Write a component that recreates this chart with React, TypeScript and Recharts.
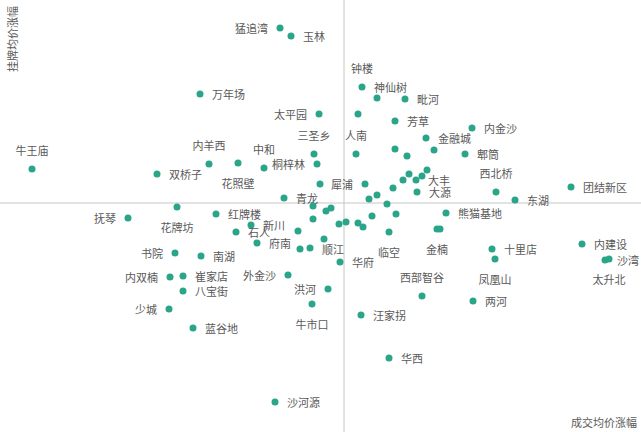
import { ScatterChart, Scatter, XAxis, YAxis, ReferenceLine, Customized } from 'recharts';

// 区域名称（空字符串为无标签的点）
const names = [
  '猛追湾', '玉林', '万年场', '太平园', '牛王庙', '双桥子', '内羊西', '花照壁', '中和', '三圣乡',
  '桐梓林', '青龙', '花牌坊', '红牌楼', '抚琴', '钟楼', '神仙树', '毗河', '芳草', '人南',
  '内金沙', '金融城', '郫筒', '大丰', '大源', '犀浦', '西北桥', '东湖', '团结新区', '熊猫基地',
  '新川', '石人', '府南', '顺江', '华府', '临空', '金楠', '十里店', '凤凰山', '内建设',
  '沙湾', '太升北', '书院', '南湖', '内双楠', '崔家店', '八宝街', '外金沙', '洪河', '牛市口',
  '少城', '蓝谷地', '沙河源', '西部智谷', '两河', '汪家拐', '华西',
  '', '', '', '', '', '', '', '', '', '', '', '', '', '', '', '', '', '', '', '', '', '', '', '', '', '', '',
];

// 成交均价涨幅 (%)
const dealChange = [
  -6.4, -5.3, -14.4, -2.5, -31.2, -18.7, -13.5, -10.6, -8.0, -3.0,
  -2.7, -6.0, -16.7, -12.8, -21.6, 1.8, 3.3, 6.1, 5.1, 1.2,
  12.8, 8.2, 12.1, 7.2, 7.3, 2.1, 15.2, 17.1, 22.7, 10.2,
  -9.3, -10.8, -8.7, -2.0, -0.4, 4.5, 9.3, 14.8, 15.1, 23.8,
  26.1, 26.5, -16.9, -14.3, -17.4, -16.1, -16.1, -5.6, -1.6, -3.2,
  -17.5, -15.1, -6.9, 7.8, 12.9, 1.7, 4.5,
  -2.4, 1.4, 5.1, 6.3, 9.0, 8.3, 6.5, 7.8, 5.9, 4.9, 2.5, 3.3, 4.3,
  -3.1, -1.8, -1.3, -3.1, -0.5, 0.2, 1.4, 1.9, 2.8, 5.2, -4.6, -4.4, -3.4, 9.6,
];

// 挂牌均价涨幅 (%)
const listChange = [
  17.5, 16.7, 10.9, 8.9, 3.4, 2.9, 3.9, 4.0, 3.5, 4.9,
  3.9, 0.5, -0.4, -1.1, -1.5, 11.6, 10.5, 10.4, 8.2, 4.9,
  7.5, 6.5, 4.9, 2.3, 1.1, 1.9, 1.1, 0.3, 1.6, -1.0,
  -2.2, -2.9, -4.0, -3.6, -5.9, -2.9, -2.6, -4.6, -5.6, -4.1,
  -5.7, -5.6, -5.0, -5.3, -7.4, -7.3, -8.8, -7.2, -8.6, -10.1,
  -10.6, -12.5, -19.9, -9.3, -9.8, -11.2, -15.5,
  1.9, 8.9, 5.4, 4.7, 5.3, 3.3, 2.9, 2.7, 2.3, 1.5, 0.4, 0.8, -0.1,
  -0.3, -0.8, -0.5, -1.6, -2.1, -1.9, -2.0, -2.4, -1.3, -1.1, -2.8, -4.6, -4.5, -2.6,
];

// 标签相对点的位置
const labelSide: Record<string, string> = {
  猛追湾: 'l', 太平园: 'l', 桐梓林: 'l', 抚琴: 'l', 犀浦: 'l', 书院: 'l', 内双楠: 'l',
  外金沙: 'l', 洪河: 'l', 少城: 'l',
  牛王庙: 't', 内羊西: 't', 中和: 't', 三圣乡: 't', 钟楼: 't', 人南: 't', 西北桥: 't', 西部智谷: 't',
  花照壁: 'b', 花牌坊: 'b', 临空: 'b', 金楠: 'b', 凤凰山: 'b', 太升北: 'b', 牛市口: 'b',
  神仙树: 'tr', 顺江: 'br',
};

const data = names.map((name, i) => ({ name, x: dealChange[i], y: listChange[i] }));

const DOT = '#2aa58a';
const TEXT = '#595959';
const FONT = '"Noto Sans CJK SC", "Noto Sans", sans-serif';

const Dot = (props: any) => {
  const { cx, cy, payload } = props;
  const name: string = payload.name;
  const side = labelSide[name] || 'r';
  let tx = cx + 12;
  let ty = cy;
  let anchor = 'start';
  if (side === 'l') { tx = cx - 12; anchor = 'end'; }
  if (side === 't') { tx = cx; ty = cy - 19; anchor = 'middle'; }
  if (side === 'b') { tx = cx; ty = cy + 20; anchor = 'middle'; }
  if (side === 'tr') { tx = cx - 3; ty = cy - 11; }
  if (side === 'br') { tx = cx - 2; ty = cy + 10; }
  return (
    <g>
      <circle cx={cx} cy={cy} r={3.5} fill={DOT} />
      {name && (
        <text x={tx} y={ty} textAnchor={anchor} dominantBaseline="central" fontSize={11} fill={TEXT} fontFamily={FONT}>
          {name}
        </text>
      )}
    </g>
  );
};

const AxisTitles = () => (
  <g fontSize={11} fill={TEXT} fontFamily={FONT}>
    <text x={637} y={422} textAnchor="end" dominantBaseline="central">成交均价涨幅</text>
    <text x={12} y={39} textAnchor="middle" dominantBaseline="central" transform="rotate(-90 12 39)">挂牌均价涨幅</text>
  </g>
);

export default function App() {
  return (
    <div style={{ position: 'absolute', left: 0, top: 0, background: '#fff' }}>
      <ScatterChart width={641} height={432} margin={{ top: 0, right: 0, bottom: 0, left: 0 }}>
        <XAxis type="number" dataKey="x" domain={[-34.4, 29.7]} hide />
        <YAxis type="number" dataKey="y" domain={[-22.9, 20.3]} hide />
        <ReferenceLine x={0} stroke="#c6c6c6" />
        <ReferenceLine y={0} stroke="#c6c6c6" />
        <Scatter data={data} shape={Dot} isAnimationActive={false} />
        <Customized component={AxisTitles} />
      </ScatterChart>
    </div>
  );
}
